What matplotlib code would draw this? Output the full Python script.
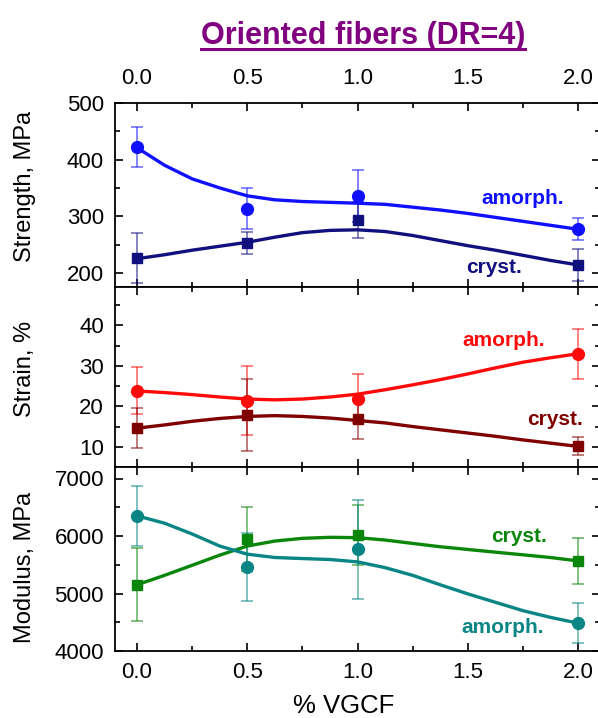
import matplotlib
matplotlib.use("Agg")
import matplotlib.pyplot as plt
from matplotlib.lines import Line2D
from matplotlib.ticker import MultipleLocator

plt.rcParams['font.family'] = ['Liberation Sans', 'DejaVu Sans']

# ---------------- data ----------------
x_pts = [0.0, 0.5, 1.0, 2.0]
x_fit = [0.0, 0.125, 0.25, 0.375, 0.5, 0.625, 0.75, 0.875, 1.0,
         1.125, 1.25, 1.375, 1.5, 1.625, 1.75, 1.875, 2.0]

# Strength, MPa
str_am = [422, 313, 336, 277]
str_am_err = [35, 36, 46, 19]
str_cr = [226, 253, 294, 214]
str_cr_err = [44, 20, 32, 29]
str_am_fit = [421, 390, 366, 350, 336, 329, 326, 324.5, 323, 321, 316, 311, 305, 298, 291, 284, 277]
str_cr_fit = [225, 232, 240, 247, 254, 263, 271, 275, 276, 273, 266, 257, 248, 240, 231, 222, 214]

# Strain, %
stn_am = [23.9, 21.4, 21.9, 33.0]
stn_am_err = [5.8, 8.5, 6.1, 6.2]
stn_cr = [14.6, 17.9, 16.8, 10.1]
stn_cr_err = [4.9, 8.9, 4.8, 2.2]
stn_am_fit = [23.8, 23.4, 22.9, 22.3, 21.8, 21.6, 21.8, 22.3, 23.0, 24.1, 25.3, 26.6, 28.0, 29.5, 30.9, 32.0, 33.0]
stn_cr_fit = [14.6, 15.4, 16.3, 17.0, 17.5, 17.7, 17.5, 17.1, 16.5, 15.9, 15.0, 14.2, 13.4, 12.6, 11.7, 10.9, 10.1]

# Modulus, MPa
mod_am = [6351, 5462, 5766, 4485]
mod_am_err = [526, 585, 854, 347]
mod_cr = [5152, 5942, 6018, 5567]
mod_cr_err = [632, 555, 526, 400]
mod_am_fit = [6351, 6222, 6035, 5825, 5684, 5626, 5608, 5591, 5550, 5450, 5316, 5152, 4994, 4848, 4702, 4585, 4485]
mod_cr_fit = [5152, 5316, 5491, 5667, 5825, 5912, 5959, 5977, 5971, 5930, 5871, 5813, 5766, 5719, 5673, 5626, 5567]

xticks = [0.0, 0.5, 1.0, 1.5, 2.0]
xticklabels = ['0.0', '0.5', '1.0', '1.5', '2.0']

# ---------------- figure ----------------
W, H = 598, 718
fig = plt.figure(figsize=(W / 100, H / 100), dpi=100)

left = 115 / W
width = (600 - 115) / W

def ax_rect(top_px, bot_px):
    return [left, 1 - bot_px / H, width, (bot_px - top_px) / H]

ax1 = fig.add_axes(ax_rect(103, 287))
ax2 = fig.add_axes(ax_rect(287, 467))
ax3 = fig.add_axes(ax_rect(467, 651))

c_blue, c_navy = '#1010ff', '#10107f'
c_red, c_dred = '#ff0a0a', '#800000'
c_green, c_teal = '#0a870a', '#0a8585'

def draw(ax, y, e, fit, color, marker, ms):
    ax.errorbar(x_pts, y, yerr=e, fmt='none', ecolor=color, alpha=0.6,
                elinewidth=1.2, capsize=4, capthick=1.2, zorder=2)
    ax.plot(x_fit, fit, '-', color=color, lw=2.4, zorder=3, solid_joinstyle='round')
    ax.plot(x_pts, y, linestyle='none', marker=marker, color=color, ms=ms, zorder=4)

draw(ax1, str_am, str_am_err, str_am_fit, c_blue, 'o', 8.5)
draw(ax1, str_cr, str_cr_err, str_cr_fit, c_navy, 's', 7)
draw(ax2, stn_am, stn_am_err, stn_am_fit, c_red, 'o', 8.5)
draw(ax2, stn_cr, stn_cr_err, stn_cr_fit, c_dred, 's', 7)
draw(ax3, mod_cr, mod_cr_err, mod_cr_fit, c_green, 's', 7)
draw(ax3, mod_am, mod_am_err, mod_am_fit, c_teal, 'o', 8.5)

ax1.set_ylim(175, 500)
ax1.set_yticks([200, 300, 400, 500])
ax1.yaxis.set_minor_locator(MultipleLocator(50))
ax2.set_ylim(5, 49.5)
ax2.set_yticks([10, 20, 30, 40])
ax2.yaxis.set_minor_locator(MultipleLocator(5))
ax3.set_ylim(4000, 7200)
ax3.set_yticks([4000, 5000, 6000, 7000])
ax3.yaxis.set_minor_locator(MultipleLocator(500))

for ax in (ax1, ax2, ax3):
    ax.set_xlim(-0.1, 2.1)
    ax.set_xticks(xticks)
    ax.xaxis.set_minor_locator(MultipleLocator(0.25))
    ax.tick_params(which='both', direction='in', top=True, right=True,
                   labelbottom=False, labeltop=False, labelsize=16, width=1.2)
    ax.tick_params(which='major', length=6)
    ax.tick_params(which='minor', length=3.5)
    ax.tick_params(axis='y', pad=8)
    for s in ax.spines.values():
        s.set_linewidth(1.3)

ax1.tick_params(axis='x', labeltop=True, pad=10)
ax1.set_xticklabels(xticklabels)
ax3.tick_params(axis='x', labelbottom=True, pad=8)
ax3.set_xticklabels(xticklabels)

# series labels
tb = dict(fontsize=15, fontweight='bold', ha='center', va='center')
ax1.text(1.75, 331, 'amorph.', color=c_blue, **tb)
ax1.text(1.617, 209, 'cryst.', color=c_navy, **tb)
ax2.text(1.664, 36.2, 'amorph.', color=c_red, **tb)
ax2.text(1.896, 16.7, 'cryst.', color=c_dred, **tb)
ax3.text(1.732, 6000, 'cryst.', color=c_green, **tb)
ax3.text(1.658, 4403, 'amorph.', color=c_teal, **tb)

# axis labels
fig.text(25 / W, 1 - 186 / H, 'Strength, MPa', rotation=90, fontsize=17, ha='center', va='center')
fig.text(25 / W, 1 - 369 / H, 'Strain, %', rotation=90, fontsize=17, ha='center', va='center')
fig.text(25 / W, 1 - 567 / H, 'Modulus, MPa', rotation=90, fontsize=17, ha='center', va='center')
fig.text(344 / W, 1 - 713 / H, '% VGCF', fontsize=18.5, ha='center', va='baseline')

# title with underline
title_col = '#800080'
t = fig.text(363 / W, 1 - 44 / H, 'Oriented fibers (DR=4)', fontsize=22, fontweight='bold',
             color=title_col, ha='center', va='baseline')
fig.canvas.draw()
bb = t.get_window_extent()
uy = 1 - 49 / H
fig.add_artist(Line2D([bb.x0 / W, bb.x1 / W], [uy, uy], color=title_col, lw=2.2,
                      transform=fig.transFigure))

fig.savefig('out.png', dpi=100)
